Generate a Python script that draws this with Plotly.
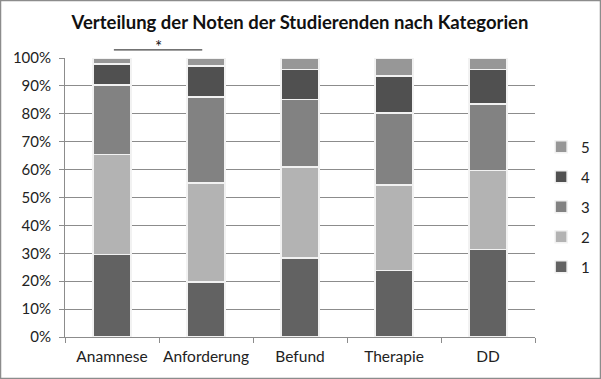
import plotly.graph_objects as go

categories = ["Anamnese", "Anforderung", "Befund", "Therapie", "DD"]
grade_labels = ["1", "2", "3", "4", "5"]
grade1 = [29.5, 19.8, 28.3, 23.9, 31.3]
grade2 = [36.0, 35.4, 32.7, 30.5, 28.4]
grade3 = [24.9, 30.8, 24.2, 25.9, 23.9]
grade4 = [7.4, 11.2, 10.6, 13.2, 12.3]
grade5 = [2.2, 2.8, 4.2, 6.5, 4.1]
series = [grade1, grade2, grade3, grade4, grade5]
colors = ["#626262", "#b3b3b3", "#828282", "#505050", "#979797"]
y_ticks = [i / 10 for i in range(11)]
y_tick_labels = [f"{i * 10}%" for i in range(11)]

FONT = "Lato, 'Open Sans', sans-serif"

fig = go.Figure()
for i, (lab, vals, col) in enumerate(zip(grade_labels, series, colors)):
    fig.add_trace(go.Bar(
        x=categories, y=[v / 100 for v in vals], name=lab,
        marker=dict(color=col, line=dict(color="#f2f2f2", width=1.5)),
        legendgroup=lab, legendrank=len(grade_labels) - i,
    ))

fig.update_layout(
    width=601, height=379,
    barmode="stack", bargap=0.6,
    paper_bgcolor="white", plot_bgcolor="white",
    margin=dict(l=65, r=66, t=58, b=42, autoexpand=False),
    font=dict(family=FONT, size=15, color="#222222"),
    title=dict(text="<b>Verteilung der Noten der Studierenden nach Kategorien</b>",
               x=0.5, xref="paper", xanchor="center", y=0.94, yanchor="middle",
               font=dict(size=18.5, color="#111111", family=FONT)),
    showlegend=True,
    legend=dict(traceorder="grouped", tracegroupgap=7.5,
                x=1.013, xanchor="left", y=0.74, yanchor="top",
                font=dict(size=15, color="#222222"),
                itemwidth=30, bgcolor="rgba(0,0,0,0)"),
)
fig.update_yaxes(range=[0, 1], tickvals=y_ticks, ticktext=y_tick_labels,
                 showgrid=True, gridcolor="#8c8c8c", gridwidth=1,
                 showline=True, linecolor="#8c8c8c", linewidth=1,
                 ticks="outside", ticklen=5, tickcolor="#8c8c8c",
                 ticklabelstandoff=5,
                 tickfont=dict(size=15, color="#222222"), zeroline=False,
                 automargin=False)
fig.update_xaxes(showline=True, linecolor="#8c8c8c", linewidth=1,
                 ticks="outside", ticklen=5, tickcolor="#8c8c8c",
                 tickson="boundaries", ticklabelstandoff=5, tickangle=0,
                 tickfont=dict(size=15.5, color="#222222"), automargin=False)

# significance bracket
fig.add_shape(type="line", xref="x", yref="paper", x0=0.02, x1=0.96,
              y0=1.029, y1=1.029, line=dict(color="#444444", width=1.2))
fig.add_annotation(xref="x", yref="paper", x=0.49, y=(337 - 46) / 279, text="*",
                   showarrow=False, yanchor="middle",
                   font=dict(size=17, color="#111111", family=FONT))
# outer border
fig.add_shape(type="rect", xref="paper", yref="paper",
              x0=(0.5 - 65) / 470, x1=(600.5 - 65) / 470,
              y0=(337 - 378.5) / 279, y1=(337 - 0.5) / 279,
              line=dict(color="#8c8c8c", width=1.5))

fig.write_html("out.html", config={"displayModeBar": False},
               post_script="document.body.style.margin='0';document.body.style.overflow='hidden';")
